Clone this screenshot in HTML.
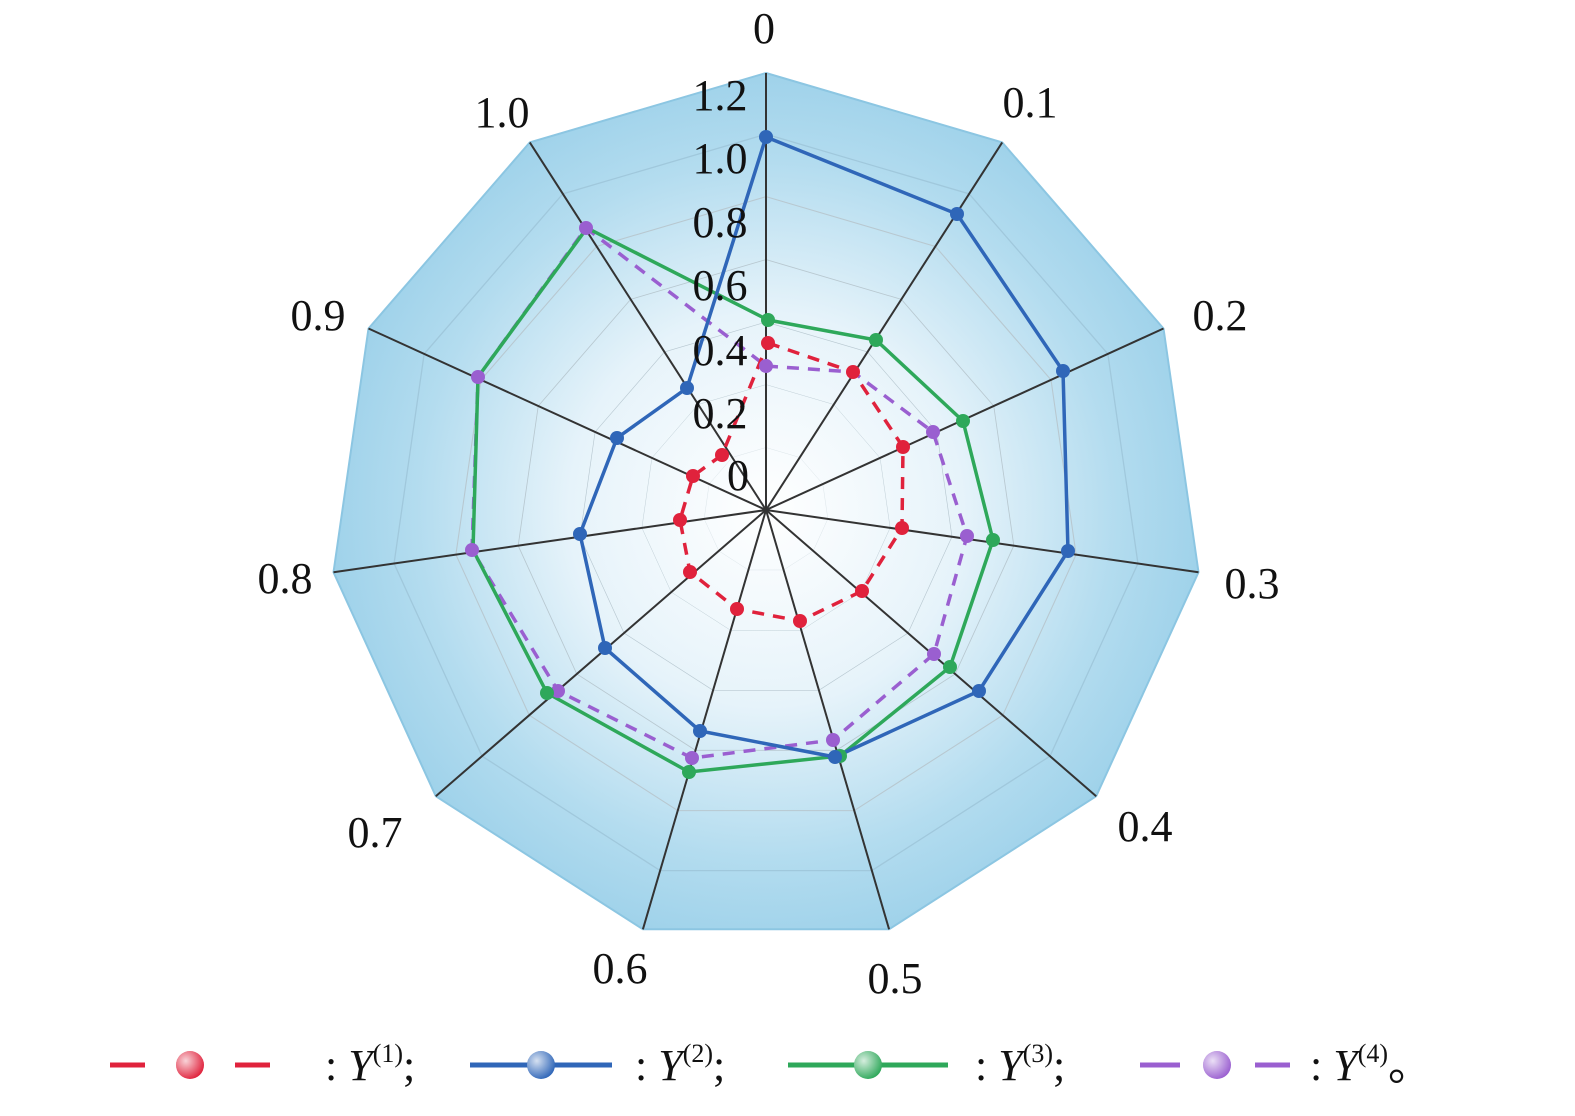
<!DOCTYPE html>
<html><head><meta charset="utf-8"><style>
html,body{margin:0;padding:0;background:#fff}
svg text{font-family:"Liberation Serif",serif}
</style></head><body>
<svg width="1575" height="1111" viewBox="0 0 1575 1111" xmlns="http://www.w3.org/2000/svg">
<defs>
<radialGradient id="bg" cx="0" cy="0" r="437" gradientUnits="userSpaceOnUse">
<stop offset="0" stop-color="#ffffff"/>
<stop offset="0.45" stop-color="#e6f3fa"/>
<stop offset="0.8" stop-color="#b3dcef"/>
<stop offset="1" stop-color="#9fd2ea"/>
</radialGradient>
<radialGradient id="ball" cx="0.35" cy="0.35" r="0.7">
<stop offset="0" stop-color="#fff" stop-opacity="0.8"/>
<stop offset="1" stop-color="#fff" stop-opacity="0"/>
</radialGradient>
<polygon id="pg" points="0,-437 236.2,-367.6 397.5,-181.5 432.5,62.2 330.2,286.2 123.1,419.3 -123.1,419.3 -330.2,286.2 -432.5,62.2 -397.5,-181.5 -236.2,-367.6"/>
</defs>
<g transform="translate(766,510)">
<use href="#pg" fill="url(#bg)" stroke="#8cc6e2" stroke-width="2"/>
<g fill="none" stroke="#b8c8d0" stroke-width="1.5">
<use href="#pg" transform="scale(0.86)" stroke="#a0c8dc" vector-effect="non-scaling-stroke"/>
<use href="#pg" transform="scale(0.717)" vector-effect="non-scaling-stroke"/>
<use href="#pg" transform="scale(0.573)" vector-effect="non-scaling-stroke"/>
<use href="#pg" transform="scale(0.43)" vector-effect="non-scaling-stroke"/>
<use href="#pg" transform="scale(0.287)" vector-effect="non-scaling-stroke"/>
<use href="#pg" transform="scale(0.143)" vector-effect="non-scaling-stroke"/>
</g>
<g stroke="#333" stroke-width="2">
<line x1="0" y1="0" x2="0" y2="-437"/>
<line x1="0" y1="0" x2="236.2" y2="-367.6"/>
<line x1="0" y1="0" x2="397.5" y2="-181.5"/>
<line x1="0" y1="0" x2="432.5" y2="62.2"/>
<line x1="0" y1="0" x2="330.2" y2="286.2"/>
<line x1="0" y1="0" x2="123.1" y2="419.3"/>
<line x1="0" y1="0" x2="-123.1" y2="419.3"/>
<line x1="0" y1="0" x2="-330.2" y2="286.2"/>
<line x1="0" y1="0" x2="-432.5" y2="62.2"/>
<line x1="0" y1="0" x2="-397.5" y2="-181.5"/>
<line x1="0" y1="0" x2="-236.2" y2="-367.6"/>
</g>
</g>
<g font-size="44" text-anchor="middle" fill="#111">
<text x="764" y="43">0</text>
<text x="1030" y="117">0.1</text>
<text x="1220" y="330">0.2</text>
<text x="1252" y="598">0.3</text>
<text x="1145" y="841">0.4</text>
<text x="895" y="993">0.5</text>
<text x="620" y="983">0.6</text>
<text x="375" y="847">0.7</text>
<text x="285" y="593">0.8</text>
<text x="318" y="330">0.9</text>
<text x="502" y="127">1.0</text>
</g>
<g stroke-width="3.5" fill="none">
<polygon stroke="#9a5fd0" stroke-dasharray="12,9" points="766,366 853,372 933,432 967,536 934,654 833,740 692,758 558,691 472,550 478,377 586,228"/>
<polygon stroke="#2ea85a" points="768,320 876,340 963,421 993,540 950,667 840,756 689,772 547,693 473,550 478,377 587,228"/>
<polygon stroke="#2f66b8" points="766,137 957,214 1063,371 1068,551 979,691 835,757 700,731 605,648 580,534 617,438 687,388"/>
<polygon stroke="#e0223c" stroke-dasharray="12,9" points="768,343 853,372 903,447 902,528 862,591 800,621 737,609 690,572 680,520 693,476 722,455"/>
</g>
<g fill="#9a5fd0">
<circle cx="766" cy="366" r="7"/><circle cx="933" cy="432" r="7"/><circle cx="967" cy="536" r="7"/><circle cx="934" cy="654" r="7"/><circle cx="833" cy="740" r="7"/><circle cx="692" cy="758" r="7"/><circle cx="558" cy="691" r="7"/><circle cx="472" cy="550" r="7"/><circle cx="478" cy="377" r="7"/><circle cx="586" cy="228" r="7"/>
</g>
<g fill="#2ea85a">
<circle cx="768" cy="320" r="7"/><circle cx="876" cy="340" r="7"/><circle cx="963" cy="421" r="7"/><circle cx="993" cy="540" r="7"/><circle cx="950" cy="667" r="7"/><circle cx="840" cy="756" r="7"/><circle cx="689" cy="772" r="7"/><circle cx="547" cy="693" r="7"/>
</g>
<g fill="#2f66b8">
<circle cx="766" cy="137" r="7"/><circle cx="957" cy="214" r="7"/><circle cx="1063" cy="371" r="7"/><circle cx="1068" cy="551" r="7"/><circle cx="979" cy="691" r="7"/><circle cx="835" cy="757" r="7"/><circle cx="700" cy="731" r="7"/><circle cx="605" cy="648" r="7"/><circle cx="580" cy="534" r="7"/><circle cx="617" cy="438" r="7"/><circle cx="687" cy="388" r="7"/>
</g>
<g fill="#e0223c">
<circle cx="768" cy="343" r="7"/><circle cx="853" cy="372" r="7"/><circle cx="903" cy="447" r="7"/><circle cx="902" cy="528" r="7"/><circle cx="862" cy="591" r="7"/><circle cx="800" cy="621" r="7"/><circle cx="737" cy="609" r="7"/><circle cx="690" cy="572" r="7"/><circle cx="680" cy="520" r="7"/><circle cx="693" cy="476" r="7"/><circle cx="722" cy="455" r="7"/>
</g>
<g font-size="44" text-anchor="middle" fill="#111">
<text x="738" y="490">0</text>
<text x="720" y="428">0.2</text>
<text x="720" y="365">0.4</text>
<text x="720" y="300">0.6</text>
<text x="720" y="237">0.8</text>
<text x="720" y="173">1.0</text>
<text x="720" y="110">1.2</text>
</g>
<g font-size="44" fill="#111">
<line x1="110" y1="1065" x2="145" y2="1065" stroke="#e0223c" stroke-width="5"/>
<line x1="235" y1="1065" x2="270" y2="1065" stroke="#e0223c" stroke-width="5"/>
<circle cx="190" cy="1065" r="14" fill="#e0223c"/><circle cx="190" cy="1065" r="14" fill="url(#ball)"/>
<text x="325" y="1080">: <tspan font-style="italic">Y</tspan><tspan font-size="26" dy="-18">(1)</tspan><tspan dy="18">;</tspan></text>
<line x1="470" y1="1065" x2="612" y2="1065" stroke="#2f66b8" stroke-width="5"/>
<circle cx="541" cy="1065" r="14" fill="#2f66b8"/><circle cx="541" cy="1065" r="14" fill="url(#ball)"/>
<text x="635" y="1080">: <tspan font-style="italic">Y</tspan><tspan font-size="26" dy="-18">(2)</tspan><tspan dy="18">;</tspan></text>
<line x1="788" y1="1065" x2="948" y2="1065" stroke="#2ea85a" stroke-width="5"/>
<circle cx="868" cy="1065" r="14" fill="#2ea85a"/><circle cx="868" cy="1065" r="14" fill="url(#ball)"/>
<text x="975" y="1080">: <tspan font-style="italic">Y</tspan><tspan font-size="26" dy="-18">(3)</tspan><tspan dy="18">;</tspan></text>
<line x1="1140" y1="1065" x2="1180" y2="1065" stroke="#9a5fd0" stroke-width="5"/>
<line x1="1255" y1="1065" x2="1290" y2="1065" stroke="#9a5fd0" stroke-width="5"/>
<circle cx="1217" cy="1065" r="14" fill="#9a5fd0"/><circle cx="1217" cy="1065" r="14" fill="url(#ball)"/>
<text x="1310" y="1080">: <tspan font-style="italic">Y</tspan><tspan font-size="26" dy="-18">(4)</tspan><tspan dy="18">。</tspan></text>
</g>
</svg>
</body></html>
